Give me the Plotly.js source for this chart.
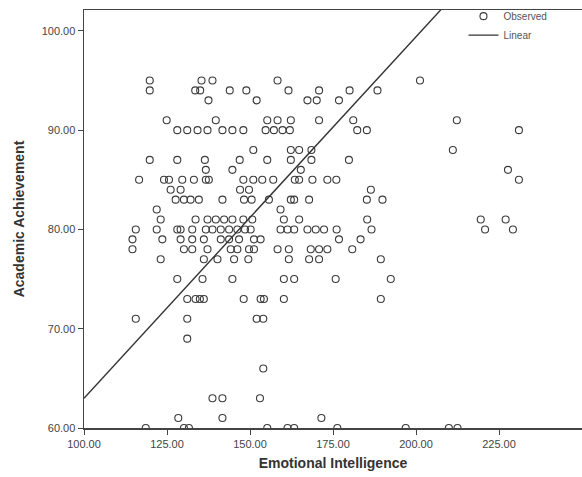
<!DOCTYPE html>
<html>
<head>
<meta charset="utf-8">
<script src="https://cdn.plot.ly/plotly-3.0.1.min.js"></script>
<style>html,body{margin:0;padding:0;background:#fff;}#chart{width:582px;height:477px;}</style>
</head>
<body>
<div id="chart"></div>
<script>
// Observed points, grouped by Academic Achievement value (y) -> Emotional Intelligence values (x)
const achievementLevels = [95, 94, 93, 91, 90, 88, 87, 86, 85, 84, 83, 82, 81, 80, 79, 78, 77, 75, 73, 71, 69, 66, 63, 61, 60];
const intelligenceByLevel = [
  [119.8, 135.4, 138.7, 158.3, 201.2],
  [119.8, 133.5, 135.0, 143.9, 148.9, 161.6, 170.8, 180.0, 188.4],
  [137.5, 152.0, 167.3, 170.1, 176.8],
  [124.9, 139.7, 155.2, 158.3, 162.3, 170.8, 181.1, 212.3],
  [128.1, 131.1, 134.2, 137.2, 141.7, 144.7, 148.0, 154.7, 157.2, 159.8, 162.0, 182.3, 185.2, 231.0],
  [151.0, 162.3, 164.8, 168.5, 211.1],
  [119.8, 128.1, 136.4, 146.9, 155.2, 162.3, 168.5, 179.8],
  [136.7, 144.7, 165.3, 227.7],
  [116.6, 124.1, 125.6, 129.6, 133.1, 136.7, 137.6, 148.0, 151.0, 153.7, 157.0, 163.5, 164.8, 168.8, 173.3, 176.0, 231.0],
  [126.1, 129.1, 147.0, 149.7, 186.4],
  [127.6, 130.1, 132.1, 134.6, 141.7, 148.2, 150.5, 155.7, 162.3, 163.3, 167.8, 185.2, 189.9],
  [121.9, 159.2],
  [123.1, 133.6, 137.2, 139.7, 142.2, 144.7, 148.0, 150.7, 160.2, 164.8, 185.3, 219.5, 227.0],
  [115.6, 121.9, 128.1, 129.1, 132.6, 136.7, 138.7, 141.2, 143.7, 146.2, 148.5, 150.2, 159.2, 161.3, 163.3, 167.3, 169.8, 172.3, 176.1, 186.6, 220.8, 229.2],
  [114.6, 123.6, 129.1, 132.6, 136.1, 141.2, 143.7, 146.7, 151.2, 153.2, 176.8, 183.3],
  [114.6, 130.1, 132.6, 137.2, 144.2, 146.2, 149.7, 151.2, 158.3, 161.7, 168.3, 170.8, 173.3, 180.8],
  [123.1, 136.1, 140.2, 145.2, 149.5, 161.7, 167.8, 170.8, 189.4],
  [128.1, 135.7, 144.7, 160.2, 163.3, 175.8, 192.4],
  [131.1, 133.6, 134.9, 136.1, 148.1, 153.2, 154.2, 160.2, 189.4],
  [115.6, 131.1, 152.0, 154.0],
  [131.1],
  [154.0],
  [138.7, 141.7, 153.0],
  [128.4, 141.7, 171.5],
  [118.6, 130.1, 131.6, 155.2, 161.3, 163.3, 176.3, 196.9, 209.9, 212.5]
];
// Linear fit
const fitIntercept = 26.6;
const fitSlope = 0.364;
const fitXRange = [100, 250];

const xTickVals = [100, 125, 150, 175, 200, 225];
const yTickVals = [60, 70, 80, 90, 100];

const obsX = [], obsY = [];
achievementLevels.forEach((lvl, i) => {
  intelligenceByLevel[i].forEach(v => { obsX.push(v); obsY.push(lvl); });
});
const lineY = fitXRange.map(x => fitIntercept + fitSlope * x);

const font = 'Liberation Sans, Arial, sans-serif';
const data = [
  {
    x: obsX, y: obsY, type: 'scatter', mode: 'markers', name: 'Observed',
    marker: {symbol: 'circle-open', size: 7, color: '#3a3a3a', line: {width: 1.1, color: '#3a3a3a'}}
  },
  {
    x: fitXRange, y: lineY, type: 'scatter', mode: 'lines', name: 'Linear',
    line: {color: '#333', width: 1.4}
  }
];
const layout = {
  width: 582, height: 477,
  margin: {l: 84, r: 0, t: 10, b: 49},
  paper_bgcolor: '#fff', plot_bgcolor: '#fff',
  font: {family: font, color: '#333'},
  showlegend: true,
  legend: {x: 0.762, y: 1.02, xanchor: 'left', yanchor: 'top', font: {size: 10, color: '#555', family: font},
           bgcolor: 'rgba(0,0,0,0)', itemwidth: 30, tracegroupgap: 0},
  xaxis: {
    range: [100, 250], tickvals: xTickVals, tickformat: '.2f',
    showgrid: false, zeroline: false, showline: true, mirror: true, linecolor: '#444', linewidth: 1.5,
    ticks: 'outside', ticklen: 5, tickcolor: '#444', tickfont: {size: 11, color: '#444', family: font},
    title: {text: 'Emotional Intelligence', font: {size: 14, color: '#333', family: font, weight: 'bold'}, standoff: 9}
  },
  yaxis: {
    range: [60, 102.1], tickvals: yTickVals, tickformat: '.2f',
    showgrid: false, zeroline: false, showline: true, mirror: true, linecolor: '#444', linewidth: 1.5,
    ticks: 'outside', ticklen: 5, tickcolor: '#444', tickfont: {size: 11, color: '#444', family: font},
    title: {text: 'Academic Achievement', font: {size: 14, color: '#333', family: font, weight: 'bold'}, standoff: 13}
  }
};
Plotly.newPlot('chart', data, layout, {displayModeBar: false, staticPlot: true});
</script>
</body>
</html>
